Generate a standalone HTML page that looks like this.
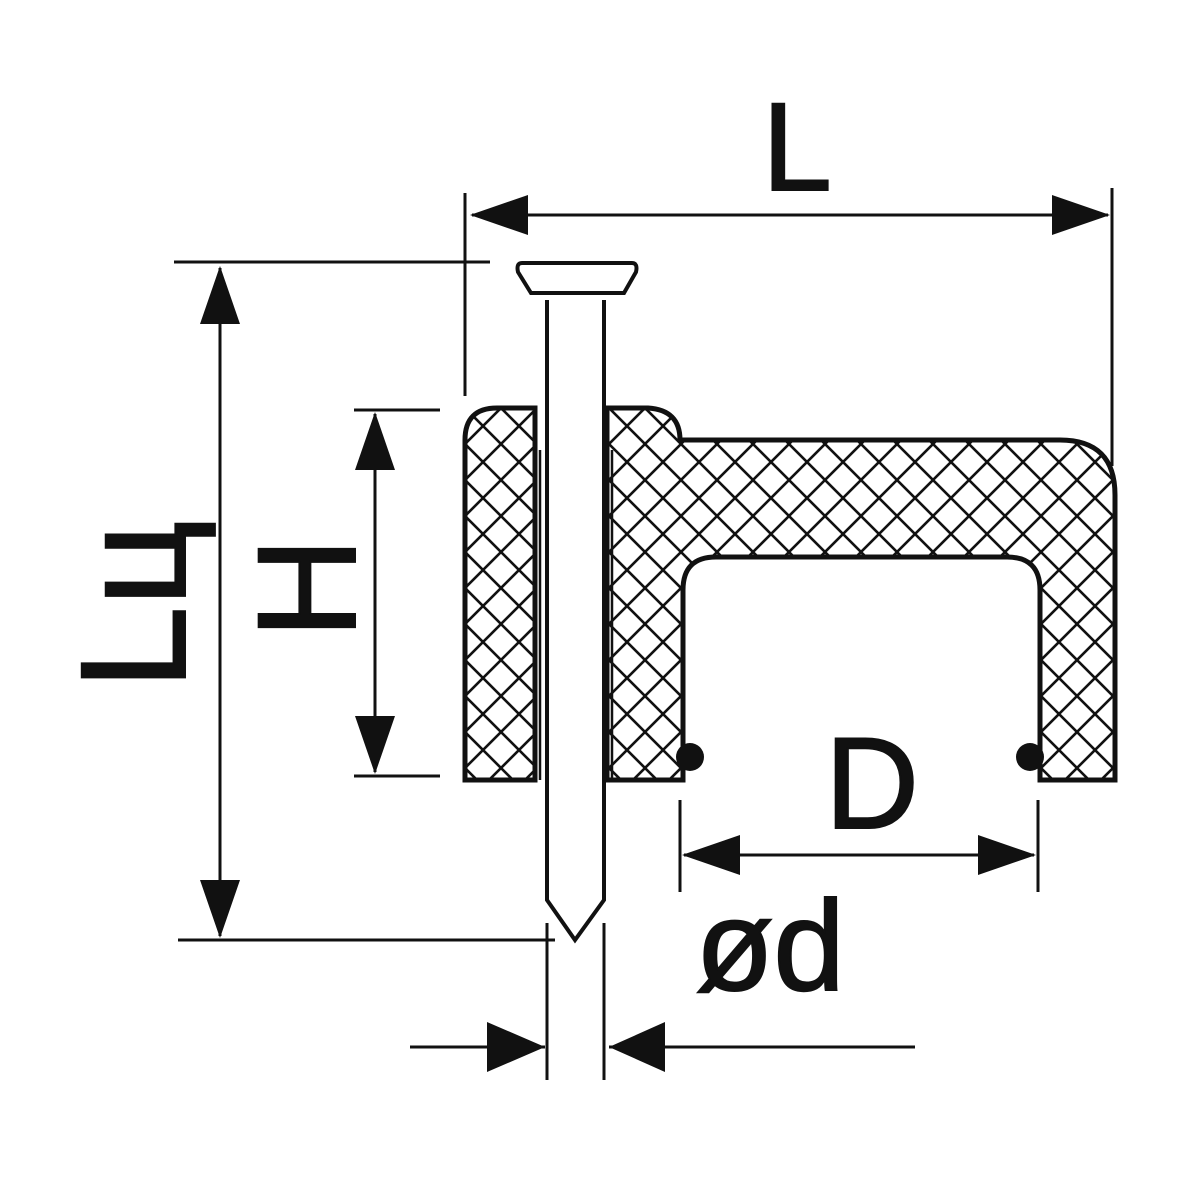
<!DOCTYPE html>
<html><head><meta charset="utf-8"><style>html,body{margin:0;padding:0;background:#fff}svg{display:block}</style></head>
<body>
<svg width="1200" height="1200" viewBox="0 0 1200 1200" xmlns="http://www.w3.org/2000/svg">
<defs>
<pattern id="h" width="36" height="36" patternUnits="userSpaceOnUse" patternTransform="translate(465,408)">
<path d="M-2,-2 L38,38 M38,-2 L-2,38" stroke="#111" stroke-width="2.6" fill="none"/>
</pattern>
</defs>
<g stroke="#111" fill="none" stroke-width="3">
<line x1="465" y1="193" x2="465" y2="396"/>
<line x1="1112" y1="188" x2="1112" y2="466"/>
<line x1="472" y1="215" x2="1108" y2="215"/>
<line x1="174" y1="262" x2="490" y2="262"/>
<line x1="178" y1="940" x2="555" y2="940"/>
<line x1="220" y1="268" x2="220" y2="936"/>
<line x1="354" y1="410" x2="440" y2="410"/>
<line x1="354" y1="776" x2="440" y2="776"/>
<line x1="375" y1="414" x2="375" y2="772"/>
<line x1="680" y1="800" x2="680" y2="892"/>
<line x1="1038" y1="800" x2="1038" y2="892"/>
<line x1="684" y1="855" x2="1034" y2="855"/>
<line x1="547" y1="923" x2="547" y2="1080"/>
<line x1="604" y1="923" x2="604" y2="1080"/>
<line x1="410" y1="1047" x2="545" y2="1047"/>
<line x1="609" y1="1047" x2="915" y2="1047"/>
<path d="M465,440 Q465,408 497,408 H535 V780 H465 Z" fill="url(#h)" stroke-width="5"/>
<path d="M607,408 H648 Q680,410 680,440 H1060 Q1115,440 1115,495 V780 H1040 V590 Q1040,557 1007,557 H716 Q683,557 683,590 V780 H607 Z" fill="url(#h)" stroke-width="5"/>
<line x1="540" y1="450" x2="540" y2="780" stroke-width="2.5"/>
<line x1="612" y1="450" x2="612" y2="780" stroke-width="2.5"/>
<path d="M547,300 V900 L575,940 L604,900 V300" fill="#fff" stroke-width="4"/>
<path d="M522,263 H632 Q638,263 636,272 L624,293 H531 L518,272 Q516,263 522,263 Z" fill="#fff" stroke-width="4"/>
<line x1="547" y1="293" x2="604" y2="293" stroke-width="4"/>
</g>
<g fill="#111">
<circle cx="690" cy="757" r="14"/>
<circle cx="1030" cy="757" r="14"/>
<polygon points="470,215 528,195 528,235"/>
<polygon points="1110,215 1052,195 1052,235"/>
<polygon points="220,266 200,324 240,324"/>
<polygon points="220,938 200,880 240,880"/>
<polygon points="375,412 355,470 395,470"/>
<polygon points="375,774 355,716 395,716"/>
<polygon points="682,855 740,835 740,875"/>
<polygon points="1036,855 978,835 978,875"/>
<polygon points="545,1047 487,1022 487,1072"/>
<polygon points="609,1047 665,1022 665,1072"/>
</g>
<g font-family="Liberation Sans, DejaVu Sans, sans-serif" fill="#111" stroke="#111" stroke-width="2">
<text x="797" y="190" font-size="125" text-anchor="middle">L</text>
<text x="872" y="828" font-size="130" text-anchor="middle">D</text>
<text x="770" y="990" font-size="128" text-anchor="middle">ød</text>
<text transform="translate(185,605) rotate(-90)" font-size="150" text-anchor="middle">Lц</text>
<text transform="translate(355,588) rotate(-90)" font-size="140" text-anchor="middle">H</text>
</g>
</svg>
</body></html>
